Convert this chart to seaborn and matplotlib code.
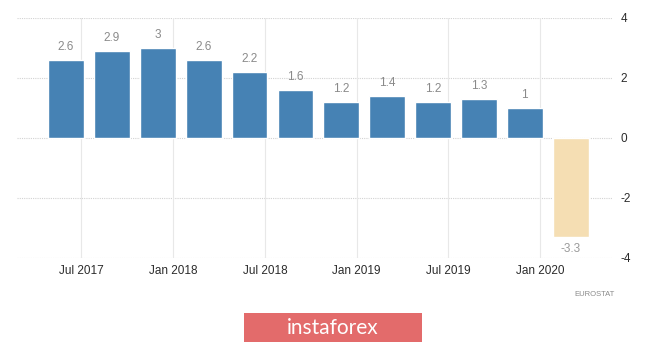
import matplotlib
matplotlib.use("Agg")
import matplotlib.pyplot as plt
import seaborn as sns
import pandas as pd
from matplotlib.patches import Rectangle

# Quarterly euro area GDP growth, year on year (%)
quarters = ["2017Q2", "2017Q3", "2017Q4", "2018Q1", "2018Q2", "2018Q3",
            "2018Q4", "2019Q1", "2019Q2", "2019Q3", "2019Q4", "2020Q1"]
growth = [2.6, 2.9, 3.0, 2.6, 2.2, 1.6, 1.2, 1.4, 1.2, 1.3, 1.0, -3.3]
value_labels = ["2.6", "2.9", "3", "2.6", "2.2", "1.6", "1.2", "1.4", "1.2", "1.3", "1", "-3.3"]
bar_colors = ["#4682B4"] * 11 + ["#F5DEB3"]

# Date ticks, expressed as months after the first quarter's final month (Jun 2017)
tick_labels = ["Jul 2017", "Jan 2018", "Jul 2018", "Jan 2019", "Jul 2019", "Jan 2020"]
tick_months = [1, 7, 13, 19, 25, 31]
y_ticks = [-4, -2, 0, 2, 4]

sns.set_theme(style="white")
plt.rcParams["axes.unicode_minus"] = False
plt.rcParams["font.family"] = ["Liberation Sans Narrow", "Liberation Sans", "DejaVu Sans"]

df = pd.DataFrame({"quarter": quarters, "growth": growth})

fig = plt.figure(figsize=(6.65, 3.44), dpi=100)
ax = fig.add_axes([17 / 665, 86 / 344, 595 / 665, 240 / 344])

sns.barplot(data=df, x="quarter", y="growth", hue="quarter", palette=bar_colors,
            order=quarters, legend=False, width=0.78, saturation=1, ax=ax, zorder=3)

ax.set_ylim(-4, 4)
ax.set_xlim(-1.07, 11.9)

# grid: dotted horizontals, faint solid verticals at the date ticks
for yv in y_ticks:
    ax.axhline(yv, color="#d2d2d2", lw=0.8, ls=(0, (1, 1)), zorder=1)
tick_pos = [m / 3 for m in tick_months]
for xv in tick_pos:
    ax.axvline(xv, color="#e8e8e8", lw=0.8, zorder=1)

ax.set_xticks(tick_pos)
ax.set_xticklabels(tick_labels, fontsize=8.5, color="#2b2b2b")
ax.yaxis.tick_right()
ax.set_yticks(y_ticks)
ax.set_yticklabels([str(v) for v in y_ticks], fontsize=8.5, color="#2b2b2b")
ax.tick_params(axis="x", length=0, pad=5)
ax.tick_params(axis="y", length=0, pad=6)
ax.set_xlabel("")
ax.set_ylabel("")
for s in ax.spines.values():
    s.set_visible(False)
ax.grid(False)

for i, (v, lab) in enumerate(zip(growth, value_labels)):
    if v >= 0:
        ax.annotate(lab, (i, v), xytext=(0, 5), textcoords="offset points",
                    ha="center", va="bottom", fontsize=8.5, color="#8a8a8a")
    else:
        ax.annotate(lab, (i, v), xytext=(0, -4), textcoords="offset points",
                    ha="center", va="top", fontsize=8.5, color="#9a9a9a")

fig.text(615 / 665, 1 - 295 / 344, "EUROSTAT", ha="right", va="center",
         fontsize=5.5, color="#8a8a8a")

# banner
fig.patches.append(Rectangle((244 / 665, 2 / 344), 178 / 665, 29 / 344,
                             transform=fig.transFigure, facecolor="#E36B6B",
                             edgecolor="none", zorder=5))
fig.text(333 / 665, 16.5 / 344, "instaforex", ha="center", va="center",
         fontsize=15, color="white", family=["Lato", "DejaVu Sans"], zorder=6)

fig.savefig("out.png", dpi=100)
